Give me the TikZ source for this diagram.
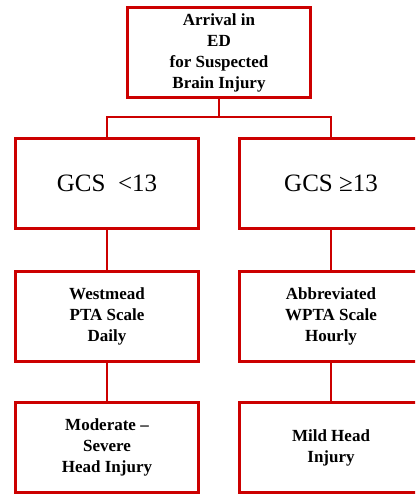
\documentclass[tikz,border=0pt]{standalone}
\usepackage{fontspec}
\setmainfont{Liberation Serif}
\usepackage{tikz}
\usetikzlibrary{positioning}
\definecolor{edred}{RGB}{204,0,0}

\begin{document}
\begin{tikzpicture}[x=1pt, y=1pt,
    box/.style={draw=edred, line width=3pt, minimum width=183pt, minimum height=90pt,
        inner sep=0pt, align=center, font=\fontsize{17}{21}\selectfont\bfseries},
    bigbox/.style={box, font=\fontsize{25}{28}\selectfont},
    link/.style={draw=edred, line width=1.7pt}]

\useasboundingbox (0,0) rectangle (415,-495);
\clip (0,0) rectangle (415,-495);

\node[box] (arrival) at (219,-52.5) {Arrival in\\ED\\for Suspected\\Brain Injury};

\node[bigbox] (gcslow) at (107,-183.5) {GCS \ <13};
\node[bigbox] (gcshigh) at (331,-183.5) {GCS ≥13};

\node[box] (wpta) at (107,-316.5) {Westmead\\PTA Scale\\Daily};
\node[box] (abbr) at (331,-316.5) {Abbreviated\\WPTA Scale\\Hourly};

\node[box] (severe) at (107,-447.5) {Moderate –\\Severe\\Head Injury};
\node[box] (mild) at (331,-447.5) {Mild Head\\Injury};

\draw[link] (arrival.south) -- ++(0,-18) coordinate (split);
\draw[link] (split) -| (gcslow.north);
\draw[link] (split) -| (gcshigh.north);

\draw[link] (gcslow) -- (wpta);
\draw[link] (gcshigh) -- (abbr);
\draw[link] (wpta) -- (severe);
\draw[link] (abbr) -- (mild);

\end{tikzpicture}
\end{document}
